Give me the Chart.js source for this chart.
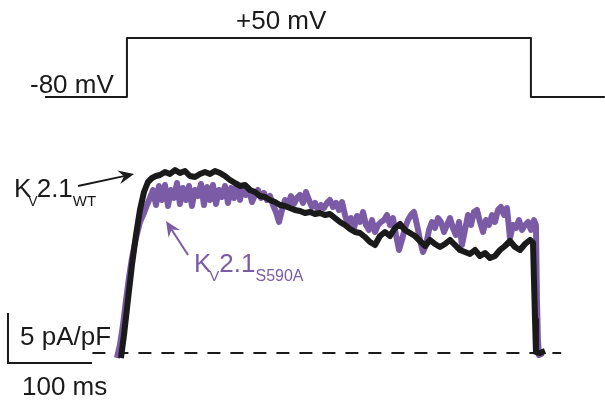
<!DOCTYPE html>
<html>
<head>
<meta charset="utf-8">
<script src="https://cdn.jsdelivr.net/npm/chart.js@4/dist/chart.umd.min.js"></script>
<style>
  body { margin: 0; background: #fff; }
</style>
</head>
<body>
<canvas id="myChart" width="605" height="402"></canvas>
<script>
// tiempo en ms, corriente en pA/pF
const timeWT = [
  0, 3.6, 8.3, 13.1, 17.9, 22.6, 27.4, 32.1, 36.9, 41.7, 46.4,
  52.4, 58.3, 64.3, 70.2, 76.2, 82.1, 88.1, 94.0, 100.0, 106.0,
  111.9, 117.9, 123.8, 129.8, 135.7, 141.7, 147.6, 153.6, 159.5, 165.5,
  171.4, 177.4, 183.3, 189.3, 195.2, 201.2, 207.1, 213.1, 219.0, 225.0,
  231.0, 236.9, 242.9, 248.8, 254.8, 260.7, 266.7, 272.6, 278.6, 284.5,
  290.5, 296.4, 302.4, 308.3, 314.3, 320.2, 326.2, 332.1, 338.1, 344.0,
  350.0, 356.0, 361.9, 367.9, 373.8, 379.8, 385.7, 391.7, 397.6, 403.6,
  409.5, 415.5, 421.4, 427.4, 433.3, 439.3, 445.2, 451.2, 457.1, 463.1,
  469.0, 475.0, 481.0, 486.9,
  490.5, 492.9, 494.0, 498.8, 504.8
]
const currentWT = [
  -0.5, 1.8, 5.3, 8.8, 11.8, 14.3, 16.1, 17.1, 17.5, 17.7, 17.8,
  18.1, 17.9, 18.3, 18.0, 18.2, 17.7, 17.6, 17.9, 18.1, 17.9,
  18.2, 18.0, 17.7, 17.3, 17.0, 16.7, 16.8, 16.3, 16.1, 15.7,
  15.6, 15.3, 15.1, 14.8, 14.7, 14.5, 14.3, 14.2, 14.0, 14.1,
  13.9, 14.0, 13.8, 13.9, 13.5, 13.1, 12.8, 12.4, 12.1, 12.0,
  11.6, 11.1, 10.8, 11.7, 12.1, 11.7, 12.5, 12.9, 12.3, 12.0,
  11.7, 11.2, 10.7, 11.3, 10.9, 10.6, 10.9, 11.3, 10.8, 10.3,
  10.1, 9.9, 10.3, 9.7, 10.0, 9.5, 9.7, 10.3, 10.7, 11.2,
  10.6, 10.3, 10.9, 11.3,
  11.0, 3.3, 0.1, 0, 0.2
]

const timeS590A = [
  -4.8, -1.2, 2.4, 6.0, 9.5, 13.1, 17.9, 22.6, 27.4, 31.0, 34.5,
  38.1, 41.7, 45.2, 48.8, 52.4, 56.0, 59.5, 63.1, 66.7, 70.2,
  73.8, 77.4, 81.0, 84.5, 88.1, 91.7, 95.2, 98.8, 102.4, 106.0,
  109.5, 113.1, 116.7, 120.2, 123.8, 127.4, 131.0, 134.5, 138.1, 141.7,
  145.2, 148.8, 152.4, 156.0, 159.5, 163.1, 166.7, 170.2, 173.8, 177.4,
  181.0, 184.5, 188.1, 191.7, 195.2, 198.8, 202.4, 206.0, 209.5, 213.1,
  216.7, 220.2, 223.8, 227.4, 231.0, 234.5, 238.1, 241.7, 245.2, 248.8,
  252.4, 256.0, 259.5, 263.1, 266.7, 270.2, 273.8, 277.4, 281.0, 284.5,
  288.1, 291.7, 295.2, 298.8, 302.4, 306.0, 309.5, 313.1, 316.7, 320.2,
  323.8, 327.4, 331.0, 334.5, 338.1, 341.7, 345.2, 348.8, 352.4, 356.0,
  359.5, 363.1, 366.7, 370.2, 373.8, 377.4, 381.0, 384.5, 388.1, 391.7,
  395.2, 398.8, 402.4, 406.0, 409.5, 413.1, 416.7, 420.2, 423.8, 427.4,
  431.0, 434.5, 438.1, 441.7, 445.2, 448.8, 452.4, 456.0, 459.5, 463.1,
  466.7, 470.2, 473.8, 477.4, 481.0, 484.5, 488.1, 491.7,
  494.0, 495.2, 496.4, 497.6, 502.4
]
const currentS590A = [
  -0.5, 0.8, 2.8, 5.3, 7.5, 9.5, 11.5, 13.1, 14.0, 14.8, 15.5,
  16.3, 14.8, 16.7, 15.3, 16.8, 14.7, 16.3, 15.5, 17.0, 14.9,
  16.5, 15.3, 16.7, 14.7, 16.3, 15.7, 16.9, 14.8, 16.6, 15.3,
  16.8, 14.9, 16.3, 15.6, 16.7, 15.0, 16.5, 15.5, 16.9, 15.3,
  16.7, 15.8, 16.3, 15.1, 15.8, 16.3, 15.5, 16.0, 15.3, 15.7,
  14.8, 14.1, 13.1, 14.3, 15.3, 14.8, 15.7, 14.9, 15.5, 15.8,
  15.0, 16.1, 15.3, 14.6, 15.0, 14.3, 14.8, 14.5, 15.0, 15.3,
  14.6, 15.0, 14.3, 15.1, 13.8, 12.8, 13.5, 12.5, 13.7, 13.1,
  14.1, 12.8, 12.3, 13.3, 12.1, 12.8, 13.1, 13.3, 13.8, 12.8,
  13.5, 11.8, 10.3, 11.3, 12.5, 13.3, 13.8, 14.1, 12.8, 11.3,
  10.1, 10.8, 12.3, 13.1, 12.5, 13.5, 13.1, 12.1, 12.8, 13.5,
  12.5, 11.8, 13.1, 10.8, 12.3, 13.8, 12.8, 14.1, 14.3, 13.1,
  12.1, 13.3, 12.8, 13.8, 13.1, 14.3, 14.6, 13.8, 14.5, 11.5,
  12.8, 12.5, 13.3, 12.3, 12.8, 13.1, 12.3, 13.3,
  12.8, 5.3, 1.3, -0.2, 0
]

// protocolo de voltaje (mV)
const timeStep = [-90.5, 7.1, 7.1, 488, 488, 576]
const voltageStep = [-80, -80, 50, 50, -80, -80]

// linea base punteada y barras de escala (100 ms, 5 pA/pF)
const timeBase = [-34, 524]
const currentBase = [0, 0]
const timeBar = [-134.5, -134.5, -34.5]
const currentBar = [4, -1, -1]

const purple = '#7b5ba6'
const ink = '#1a1a1a'
const font = '"Liberation Sans", Arial, sans-serif'

function toPoints(xs, ys) {
  return xs.map((x, i) => ({ x, y: ys[i] }))
}

function drawParts(ctx, x, y, parts, color) {
  ctx.fillStyle = color
  parts.forEach(p => {
    ctx.font = p.size + 'px ' + font
    x += p.dx || 0
    ctx.fillText(p.text, x, y + (p.dy || 0))
    x += ctx.measureText(p.text).width
  })
}

function drawArrow(ctx, x1, y1, x2, y2, color) {
  const ang = Math.atan2(y2 - y1, x2 - x1)
  const head = 17
  ctx.strokeStyle = color
  ctx.fillStyle = color
  ctx.lineWidth = 2
  ctx.beginPath()
  ctx.moveTo(x1, y1)
  ctx.lineTo(x2 - head * 0.6 * Math.cos(ang), y2 - head * 0.6 * Math.sin(ang))
  ctx.stroke()
  ctx.beginPath()
  ctx.moveTo(x2, y2)
  ctx.lineTo(x2 - head * Math.cos(ang - 0.42), y2 - head * Math.sin(ang - 0.42))
  ctx.lineTo(x2 - head * 0.6 * Math.cos(ang), y2 - head * 0.6 * Math.sin(ang))
  ctx.lineTo(x2 - head * Math.cos(ang + 0.42), y2 - head * Math.sin(ang + 0.42))
  ctx.closePath()
  ctx.fill()
}

// textos y flechas
const labelsPlugin = {
  id: 'labels',
  afterDatasetsDraw(chart) {
    const ctx = chart.ctx
    ctx.save()
    ctx.textBaseline = 'alphabetic'
    drawParts(ctx, 236, 29, [{ text: '+50 mV', size: 26 }], ink)
    drawParts(ctx, 30, 93, [{ text: '-80 mV', size: 26 }], ink)
    drawParts(ctx, 20, 345, [{ text: '5 pA/pF', size: 26 }], ink)
    drawParts(ctx, 22, 395, [{ text: '100 ms', size: 26 }], ink)

    drawParts(ctx, 14, 197, [
      { text: 'K', size: 26 },
      { text: 'V', size: 14, dy: 9, dx: -3 },
      { text: '2.1', size: 26, dx: -1 },
      { text: 'WT', size: 15, dy: 9 }
    ], ink)
    drawArrow(ctx, 78, 186, 134, 174, ink)

    drawParts(ctx, 194, 272, [
      { text: 'K', size: 26 },
      { text: 'V', size: 15, dy: 9, dx: -2 },
      { text: '2.1', size: 26, dx: 0 },
      { text: 'S590A', size: 16, dy: 9 }
    ], purple)
    drawArrow(ctx, 188, 255, 166, 221, purple)
    ctx.restore()
  }
}

const data = {
  datasets: [
    {
      label: 'Kv2.1 WT',
      data: toPoints(timeWT, currentWT),
      borderColor: ink,
      borderWidth: 6,
      order: 0
    },
    {
      label: 'Kv2.1 S590A',
      data: toPoints(timeS590A, currentS590A),
      borderColor: purple,
      borderWidth: 6,
      order: 1
    },
    {
      label: 'voltaje',
      data: toPoints(timeStep, voltageStep),
      borderColor: ink,
      borderWidth: 2,
      yAxisID: 'yV',
      order: 2
    },
    {
      label: 'base',
      data: toPoints(timeBase, currentBase),
      borderColor: ink,
      borderWidth: 2,
      borderDash: [13, 10],
      order: 3
    },
    {
      label: 'escala',
      data: toPoints(timeBar, currentBar),
      borderColor: ink,
      borderWidth: 2,
      borderJoinStyle: 'miter',
      order: 4
    }
  ]
}

const config = {
  type: 'line',
  data,
  options: {
    responsive: false,
    animation: false,
    layout: { padding: 0 },
    elements: {
      point: { radius: 0 },
      line: { tension: 0, borderJoinStyle: 'round', fill: false }
    },
    plugins: {
      legend: { display: false },
      tooltip: { enabled: false }
    },
    scales: {
      x: { type: 'linear', min: -144, max: 576.2, display: false },
      y: { type: 'linear', min: -4.9, max: 35.3, display: false },
      yV: { type: 'linear', min: -752, max: 133.7, display: false }
    }
  },
  plugins: [labelsPlugin]
}

const myChart = new Chart(document.querySelector('#myChart'), config)
</script>
</body>
</html>
